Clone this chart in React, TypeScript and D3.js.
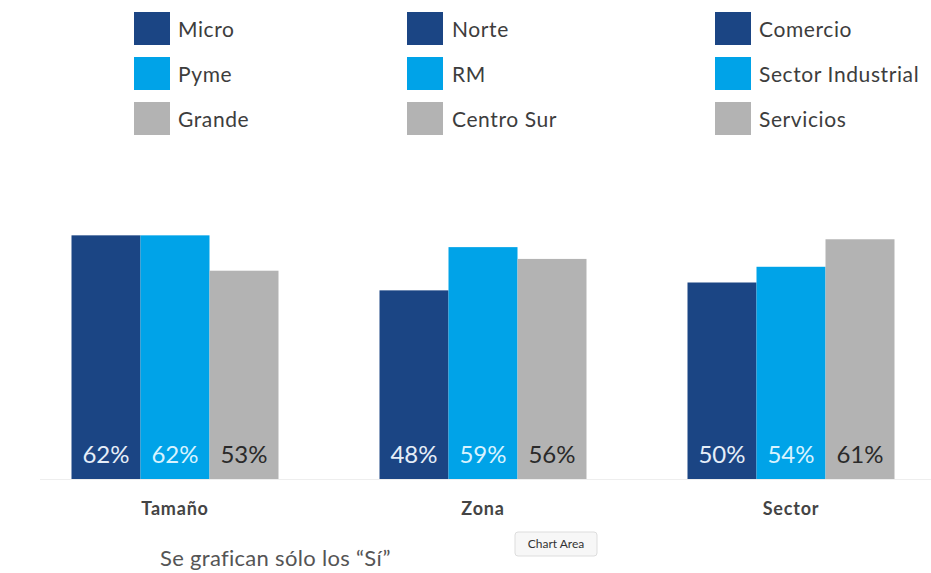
import React from "react";
import * as d3 from "d3";

const groups = ["Tamaño", "Zona", "Sector"];
const seriesNames = [
  ["Micro", "Pyme", "Grande"],
  ["Norte", "RM", "Centro Sur"],
  ["Comercio", "Sector Industrial", "Servicios"],
];
const values = [
  [62, 62, 53],
  [48, 59, 56],
  [50, 54, 61],
];
const colors = ["#1B4584", "#00A3E8", "#B3B3B3"];
const labelColors = ["#E6EEF8", "#D8F3FF", "#2A2A2A"];
const footnote = "Se grafican sólo los “Sí”";

const W = 931;
const H = 573;
const FONT = "Lato, 'Open Sans', sans-serif";

export default function App() {
  const cx = d3.scalePoint<string>().domain(groups).range([175, 791]);
  const groupW = 207;
  const baseY = 479;
  const y = d3.scaleLinear().domain([0, 100]).range([baseY, baseY - 393]);
  const inner = d3.scaleBand<number>().domain([0, 1, 2]).range([-groupW / 2, groupW / 2]);
  const legendX = [[134, 178], [407, 452], [715, 759]];
  const legendY = [12, 57, 102];
  return (
    <svg width={W} height={H} style={{ position: "absolute", left: 0, top: 0, background: "#fff" }} fontFamily={FONT}>
      {seriesNames.map((names, gi) =>
        names.map((n, si) => (
          <g key={gi + "-" + si}>
            <rect x={legendX[gi][0]} y={legendY[si]} width={36} height={33} fill={colors[si]} />
            <text x={legendX[gi][1]} y={legendY[si] + 25} fontSize={21} letterSpacing={0.6} fill="#3d3d3d">{n}</text>
          </g>
        ))
      )}
      <line x1={40} x2={931} y1={baseY + 0.5} y2={baseY + 0.5} stroke="#eee" strokeWidth={1} />
      {groups.map((g, gi) => (
        <g key={g} transform={`translate(${cx(g)},0)`}>
          {values[gi].map((v, si) => (
            <g key={si}>
              <rect x={inner(si)!} y={y(v)} width={inner.bandwidth()} height={baseY - y(v)} fill={colors[si]} />
              <text x={inner(si)! + inner.bandwidth() / 2} y={baseY - 16} textAnchor="middle" fontSize={24} fill={labelColors[si]}>{v}%</text>
            </g>
          ))}
          <text x={0} y={baseY + 36} textAnchor="middle" fontSize={18} fontWeight="bold" fill="#444" letterSpacing={0.8}>{g}</text>
        </g>
      ))}
      <text x={160} y={566} fontSize={22} letterSpacing={0.3} fill="#555">{footnote}</text>
      <g>
        <rect x={515} y={532} width={82} height={24} rx={3} fill="#f7f7f7" stroke="#ddd" />
        <text x={556} y={548} textAnchor="middle" fontSize={12} fill="#333">Chart Area</text>
      </g>
    </svg>
  );
}
